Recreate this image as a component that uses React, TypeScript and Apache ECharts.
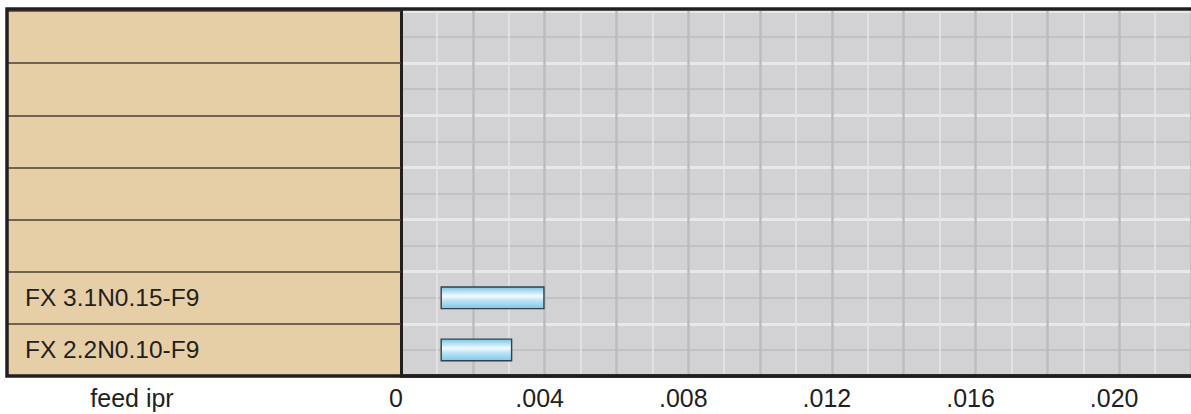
import React, { useEffect, useRef } from "react";
import * as echarts from "echarts";

const rowLabels = ["", "", "", "", "", "FX 3.1N0.15-F9", "FX 2.2N0.10-F9"];
const barStart: (number | null)[] = [null, null, null, null, null, 0.0011, 0.0011];
const barEnd: (number | null)[] = [null, null, null, null, null, 0.004, 0.0031];
const tickValues = [0, 0.004, 0.008, 0.012, 0.016, 0.02];
const tickLabels = ["0", ".004", ".008", ".012", ".016", ".020"];
const axisTitle = "feed ipr";

export default function App() {
  const ref = useRef<HTMLDivElement>(null);
  useEffect(() => {
    if (!ref.current) return;
    const chart = echarts.init(ref.current, undefined, { renderer: "svg" });
    const cats = rowLabels.map((l, i) => (l ? l : "row" + i));
    const lengths = barEnd.map((e, i) =>
      e == null || barStart[i] == null ? null : +(e - (barStart[i] as number)).toFixed(6)
    );
    const font = "'Liberation Sans', Arial, Helvetica, sans-serif";
    const gridLeft = 401;
    chart.setOption({
      animation: false,
      backgroundColor: "#ffffff",
      grid: {
        left: gridLeft,
        right: -2,
        top: 11,
        bottom: 38,
        show: true,
        backgroundColor: "#D2D2D4",
        borderWidth: 0,
      },
      xAxis: {
        type: "value",
        min: 0,
        max: 0.022,
        interval: 0.002,
        axisLine: { show: true, lineStyle: { color: "#231F20", width: 3.5 } },
        axisTick: { show: false },
        axisLabel: {
          fontSize: 25,
          color: "#231F20",
          fontFamily: font,
          margin: 9,
          padding: [0, 10, 0, 0],
          showMaxLabel: false,
          formatter: (v: number) => {
            const idx = tickValues.findIndex((t) => Math.abs(t - v) < 1e-9);
            return idx >= 0 ? tickLabels[idx] : "";
          },
        },
        splitLine: { show: true, lineStyle: { color: "#BCBCBE", width: 2.5 } },
        minorTick: { show: false, splitNumber: 2 },
        minorSplitLine: { show: true, lineStyle: { color: "#E6E6E8", width: 1.5 } },
      },
      yAxis: [
        {
          type: "category",
          data: cats,
          inverse: true,
          axisLine: { show: true, lineStyle: { color: "#231F20", width: 3 } },
          axisTick: {
            show: true,
            inside: false,
            length: 393,
            lineStyle: { color: "#4A3F33", width: 1.5 },
          },
          axisLabel: {
            margin: gridLeft - 25,
            align: "left",
            fontSize: 24.5,
            color: "#231F20",
            fontFamily: font,
            formatter: (v: string) => (v.startsWith("row") ? "" : v),
          },
          splitLine: { show: false },
          z: 5,
        },
        {
          type: "value",
          min: 0,
          max: 7,
          interval: 1,
          position: "right",
          axisLine: { show: false },
          axisTick: { show: false },
          axisLabel: { show: false },
          splitLine: { show: true, lineStyle: { color: "#E8E8EA", width: 3 } },
          minorTick: { show: false, splitNumber: 2 },
          minorSplitLine: { show: true, lineStyle: { color: "#BDBDBF", width: 1.5 } },
        },
      ],
      series: [
        {
          type: "bar",
          name: "base",
          stack: "r",
          yAxisIndex: 0,
          data: barStart,
          barWidth: 23,
          itemStyle: { color: "rgba(0,0,0,0)" },
          silent: true,
        },
        {
          type: "bar",
          name: axisTitle,
          stack: "r",
          yAxisIndex: 0,
          data: lengths,
          barWidth: 23,
          itemStyle: {
            color: new echarts.graphic.LinearGradient(0, 0, 0, 1, [
              { offset: 0, color: "#78C5E8" },
              { offset: 0.25, color: "#BFE6F7" },
              { offset: 0.42, color: "#F4FBFE" },
              { offset: 0.62, color: "#BCE5F6" },
              { offset: 1, color: "#7CC8EA" },
            ]),
            borderColor: "#33414B",
            borderWidth: 1.4,
          },
        },
      ],
      graphic: [
        {
          type: "rect",
          z: -10,
          shape: { x: 7, y: 9, width: gridLeft - 7, height: 367 },
          style: { fill: "#E6CFA6" },
        },
        {
          type: "rect",
          z: 100,
          shape: { x: 7, y: 9, width: 1200, height: 367 },
          style: { fill: "none", stroke: "#231F20", lineWidth: 3.5 },
        },
        {
          type: "text",
          z: 100,
          x: 132,
          y: 398,
          style: {
            text: axisTitle,
            fontSize: 25,
            fill: "#231F20",
            fontFamily: font,
            align: "center",
            verticalAlign: "middle",
          },
        },
      ],
    });
    return () => chart.dispose();
  }, []);
  return (
    <div
      ref={ref}
      style={{ position: "absolute", left: 0, top: 0, width: 1191, height: 414 }}
    />
  );
}
